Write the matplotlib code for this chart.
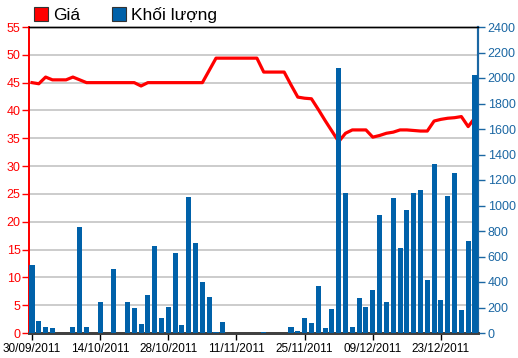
import matplotlib
matplotlib.use("Agg")
import matplotlib.pyplot as plt
from matplotlib import font_manager
from matplotlib.patches import Patch

# fonts: narrow sans if available
_installed = {f.name for f in font_manager.fontManager.ttflist}
FONT = [f for f in ("Liberation Sans Narrow", "Liberation Sans", "DejaVu Sans") if f in _installed]
plt.rcParams["font.family"] = FONT or ["DejaVu Sans"]

# trading-day index -> x tick labels
tick_days = [0, 10, 20, 30, 40, 50, 60]
tick_labels = ["30/09/2011", "14/10/2011", "28/10/2011", "11/11/2011",
               "25/11/2011", "09/12/2011", "23/12/2011"]

# closing price (left axis), one value per trading day
price = [45.0, 44.8, 46.0, 45.5, 45.5, 45.5, 46.0, 45.5, 45.0, 45.0,
         45.0, 45.0, 45.0, 45.0, 45.0, 45.0, 44.4, 45.0, 45.0, 45.0,
         45.0, 45.0, 45.0, 45.0, 45.0, 45.0, 47.2, 49.4, 49.4, 49.4,
         49.4, 49.4, 49.4, 49.4, 46.9, 46.9, 46.9, 46.9, 44.6, 42.4,
         42.2, 42.1, 40.2, 38.2, 36.3, 34.4, 35.9, 36.5, 36.5, 36.5,
         35.2, 35.5, 35.9, 36.1, 36.5, 36.5, 36.4, 36.3, 36.3, 38.1,
         38.4, 38.6, 38.7, 38.9, 37.1, 38.7]

# traded volume (right axis)
volume = [532, 96, 50, 42, 0, 0, 50, 829, 50, 0,
          243, 0, 504, 0, 243, 196, 68, 301, 685, 120,
          204, 628, 60, 1065, 706, 400, 282, 10, 88, 0,
          0, 0, 0, 0, 8, 0, 0, 0, 49, 18,
          117, 78, 366, 39, 192, 2080, 1096, 49, 278, 203,
          335, 923, 242, 1056, 670, 968, 1096, 1124, 416, 1328,
          260, 1077, 1252, 182, 720, 2020]

RED = "#ff0000"
BAR_BLUE = "#0061a9"
AX_BLUE = "#1b67a3"

days = list(range(len(price)))

fig = plt.figure(figsize=(5.18, 3.58), dpi=100)
ax = fig.add_axes([29 / 518, 25 / 358, 449 / 518, 306 / 358])
ax2 = ax.twinx()

ax.plot(days, price, color=RED, lw=2.3, solid_joinstyle="round", zorder=3)
ax.set_ylim(0, 55)
ax.set_yticks(range(0, 56, 5))
ax.set_xlim(-0.44, len(price) - 0.56)
ax.set_xticks(tick_days)
ax.set_xticklabels(tick_labels)
ax.grid(axis="y", color="#c8c8c8", lw=1.3)
ax.set_axisbelow(True)

ax2.bar(days, volume, width=0.74, color=BAR_BLUE, linewidth=0, zorder=3)
ax2.set_ylim(0, 2400)
ax2.set_yticks(range(0, 2401, 200))

ax.tick_params(axis="y", colors=RED, labelsize=9, length=5, width=1, pad=1)
ax.tick_params(axis="x", colors="black", labelsize=8.5, length=5, width=1, pad=2)
ax2.tick_params(axis="y", colors=AX_BLUE, labelsize=9, length=5, width=1, pad=2)

for a in (ax, ax2):
    a.spines["left"].set_color(RED)
    a.spines["left"].set_linewidth(1.3)
    a.spines["right"].set_color(AX_BLUE)
    a.spines["right"].set_linewidth(1.5)
    a.spines["top"].set_color("black")
    a.spines["top"].set_linewidth(1.0)
    a.spines["bottom"].set_color("#404040")
    a.spines["bottom"].set_linewidth(2.0)

handles = [Patch(facecolor=RED, edgecolor="#333333", lw=0.8, label="Giá"),
           Patch(facecolor=BAR_BLUE, edgecolor="#333333", lw=0.8, label="Khối lượng")]
fig.legend(handles=handles, loc="upper left", bbox_to_anchor=(31 / 518, 0.99),
           ncol=2, frameon=False, fontsize=12.5, handlelength=0.8, handleheight=0.8,
           handletextpad=0.3, columnspacing=1.8, borderaxespad=0.1, borderpad=0.1)

fig.savefig("out.png", dpi=100)
